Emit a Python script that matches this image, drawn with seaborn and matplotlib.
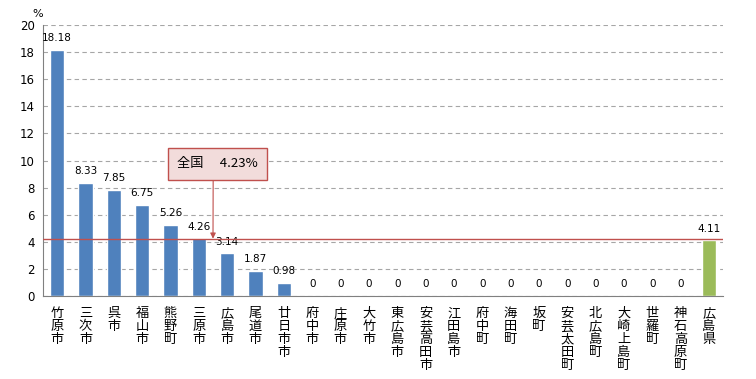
import matplotlib
matplotlib.use("Agg")
import matplotlib.pyplot as plt
import seaborn as sns
import pandas as pd

categories = ["竹原市", "三次市", "呉市", "福山市", "熊野町", "三原市", "広島市", "尾道市",
              "廿日市市", "府中市", "庄原市", "大竹市", "東広島市", "安芸高田市", "江田島市",
              "府中町", "海田町", "坂町", "安芸太田町", "北広島町", "大崎上島町", "世羅町",
              "神石高原町", "広島県"]
values = [18.18, 8.33, 7.85, 6.75, 5.26, 4.26, 3.14, 1.87, 0.98, 0, 0, 0, 0, 0, 0,
          0, 0, 0, 0, 0, 0, 0, 0, 4.11]
value_labels = ["18.18", "8.33", "7.85", "6.75", "5.26", "4.26", "3.14", "1.87", "0.98",
                "0", "0", "0", "0", "0", "0", "0", "0", "0", "0", "0", "0", "0", "0", "4.11"]
national = 4.23
national_label = "全国　 4.23%"
yticks = [0, 2, 4, 6, 8, 10, 12, 14, 16, 18, 20]

sns.set_theme(style="white")
plt.rcParams['font.family'] = ['Noto Sans CJK JP', 'DejaVu Sans']
plt.rcParams['text.color'] = 'black'
plt.rcParams['xtick.color'] = 'black'
plt.rcParams['ytick.color'] = 'black'

df = pd.DataFrame({"cat": categories, "val": values})
colors = ["#4F81BD"] * (len(categories) - 1) + ["#9BBB59"]

fig = plt.figure(figsize=(7.56, 3.79), dpi=100)
ax = fig.add_axes([43 / 756, 1 - 296 / 379, (723 - 43) / 756, (296 - 25) / 379])
sns.barplot(data=df, x="cat", y="val", hue="cat", palette=colors, legend=False,
            width=0.5, saturation=1, ax=ax)

ax.set_ylim(0, 20)
ax.set_xlim(-0.5, len(categories) - 0.5)
ax.set_yticks(yticks)
ax.set_yticklabels([str(t) for t in yticks], fontsize=8.5, family=['DejaVu Sans'])
ax.yaxis.grid(True, linestyle=(0, (4, 3)), color="#A6A6A6", linewidth=0.8)
ax.set_axisbelow(True)
ax.set_xlabel("")
ax.set_ylabel("")

ax.set_xticks(range(len(categories)))
ax.set_xticklabels(["\n".join(c) for c in categories], fontsize=9.5, linespacing=1.0,
                   va="top")
ax.tick_params(axis="x", length=0, pad=8, colors="black")
ax.tick_params(axis="y", length=0, pad=6, colors="black")
ax.set_xticks([i + 0.5 for i in range(-1, len(categories))], minor=True)
ax.tick_params(axis="x", which="minor", length=4, color="#808080", width=0.8, direction="out")

for s in ["top", "right"]:
    ax.spines[s].set_visible(False)
for s in ["left", "bottom"]:
    ax.spines[s].set_color("#808080")
    ax.spines[s].set_linewidth(0.8)

for i, (v, lab) in enumerate(zip(values, value_labels)):
    ax.text(i, v + 0.5, lab, ha="center", va="bottom", fontsize=7.5,
            family=['DejaVu Sans'], color="black")

ax.axhline(national, color="#C0504D", linewidth=1.0, zorder=3)

ax.annotate(national_label, xy=(5.5, national), xytext=(5.65, 9.75),
            ha="center", va="center", fontsize=9.5, color="black",
            bbox=dict(boxstyle="square,pad=0.7", fc="#F2DCDB", ec="#C0504D", lw=1.0),
            arrowprops=dict(arrowstyle="-|>", color="#C0504D", lw=0.8, mutation_scale=8,
                            shrinkA=0, shrinkB=0, relpos=(0.45, 0.5)))

fig.text(38 / 756, 1 - 14 / 379, "%", fontsize=8, ha="center", va="center",
         family=['DejaVu Sans'], color="black")

fig.savefig("out.png", dpi=100)
